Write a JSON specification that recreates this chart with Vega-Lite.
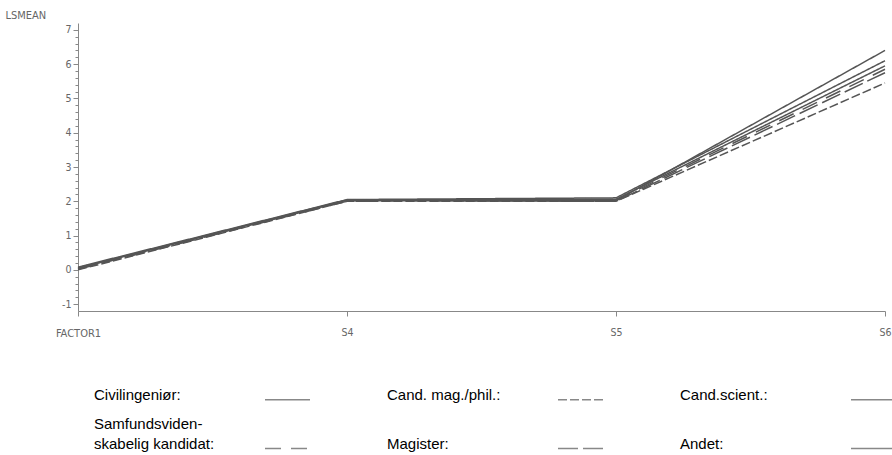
{
  "$schema": "https://vega.github.io/schema/vega-lite/v6.json",
  "autosize": "none",
  "width": 807,
  "height": 288,
  "padding": {"left": 78, "top": 23, "right": 7, "bottom": 144},
  "background": "white",
  "config": {
    "view": {"stroke": null},
    "axis": {
      "grid": false,
      "domainColor": "#888",
      "tickColor": "#888",
      "labelColor": "#666",
      "titleColor": "#666",
      "labelFont": "DejaVu Sans Condensed, Liberation Sans Narrow, DejaVu Sans",
      "titleFont": "DejaVu Sans Condensed, Liberation Sans Narrow, DejaVu Sans",
      "labelFontSize": 10.5,
      "titleFontSize": 11,
      "titleFontWeight": "normal"
    }
  },
  "data": {
    "values": [
      {"group": "Civilingeniør", "level": "S3", "lsmean": 0.05},
      {"group": "Civilingeniør", "level": "S4", "lsmean": 2.03},
      {"group": "Civilingeniør", "level": "S5", "lsmean": 2.02},
      {"group": "Civilingeniør", "level": "S6", "lsmean": 6.4},
      {"group": "Cand. mag./phil.", "level": "S3", "lsmean": 0.0},
      {"group": "Cand. mag./phil.", "level": "S4", "lsmean": 2.0},
      {"group": "Cand. mag./phil.", "level": "S5", "lsmean": 2.0},
      {"group": "Cand. mag./phil.", "level": "S6", "lsmean": 5.45},
      {"group": "Cand.scient.", "level": "S3", "lsmean": 0.08},
      {"group": "Cand.scient.", "level": "S4", "lsmean": 2.05},
      {"group": "Cand.scient.", "level": "S5", "lsmean": 2.1},
      {"group": "Cand.scient.", "level": "S6", "lsmean": 6.1},
      {"group": "Samfundsvidenskabelig kandidat", "level": "S3", "lsmean": 0.02},
      {"group": "Samfundsvidenskabelig kandidat", "level": "S4", "lsmean": 2.0},
      {"group": "Samfundsvidenskabelig kandidat", "level": "S5", "lsmean": 2.03},
      {"group": "Samfundsvidenskabelig kandidat", "level": "S6", "lsmean": 5.85},
      {"group": "Magister", "level": "S3", "lsmean": 0.03},
      {"group": "Magister", "level": "S4", "lsmean": 2.02},
      {"group": "Magister", "level": "S5", "lsmean": 2.0},
      {"group": "Magister", "level": "S6", "lsmean": 5.75},
      {"group": "Andet", "level": "S3", "lsmean": 0.06},
      {"group": "Andet", "level": "S4", "lsmean": 2.04},
      {"group": "Andet", "level": "S5", "lsmean": 2.06},
      {"group": "Andet", "level": "S6", "lsmean": 5.95}
    ]
  },
  "mark": {"type": "line", "color": "#555555", "strokeWidth": 1.5},
  "encoding": {
    "x": {
      "field": "level",
      "type": "ordinal",
      "sort": ["S3", "S4", "S5", "S6"],
      "scale": {"type": "point", "padding": 0},
      "axis": {
        "labelAngle": 0,
        "tickSize": 5,
        "labelPadding": 11,
        "labelExpr": "datum.value == 'S3' ? '' : datum.value",
        "title": "FACTOR1",
        "titleX": 0,
        "titleY": 22,
        "titleAlign": "center",
        "titleBaseline": "middle",
        "titleAnchor": "start"
      }
    },
    "y": {
      "field": "lsmean",
      "type": "quantitative",
      "scale": {"domain": [-1.2, 7.2], "nice": false, "zero": false},
      "axis": {
        "values": [-1, -0.8, -0.6, -0.4, -0.2, 0, 0.2, 0.4, 0.6, 0.8, 1, 1.2, 1.4, 1.6, 1.8, 2, 2.2, 2.4, 2.6, 2.8, 3, 3.2, 3.4, 3.6, 3.8, 4, 4.2, 4.4, 4.6, 4.8, 5, 5.2, 5.4, 5.6, 5.8, 6, 6.2, 6.4, 6.6, 6.8, 7],
        "labelExpr": "abs(datum.value - round(datum.value)) < 0.001 ? '' + round(datum.value) : ''",
        "labelOverlap": false,
        "tickSize": {"condition": {"test": "abs(datum.value - round(datum.value)) < 0.001", "value": 5}, "value": 3},
        "labelPadding": 2,
        "title": "LSMEAN",
        "titleAngle": 0,
        "titleX": -73,
        "titleY": -8,
        "titleAlign": "left",
        "titleBaseline": "middle"
      }
    },
    "strokeDash": {
      "field": "group",
      "type": "nominal",
      "scale": {
        "domain": ["Civilingeniør", "Samfundsvidenskabelig kandidat", "Cand. mag./phil.", "Magister", "Cand.scient.", "Andet"],
        "range": [[1, 0], [16, 10], [9, 3], [20, 5], [1, 0], [1, 0]]
      },
      "legend": {
        "orient": "none",
        "legendX": 186,
        "legendY": 353,
        "padding": 0,
        "title": null,
        "columns": 3,
        "columnPadding": 74,
        "rowPadding": 13,
        "symbolType": "stroke",
        "symbolSize": 2025,
        "symbolStrokeWidth": 1.5,
        "symbolStrokeColor": "#888",
        "labelFont": "Liberation Sans",
        "labelFontSize": 15,
        "labelColor": "black",
        "labelLimit": 300,
        "labelAlign": "left",
        "labelBaseline": "alphabetic",
        "labelOffset": -217,
        "labelExpr": "datum.label == 'Samfundsvidenskabelig kandidat' ? ['Samfundsviden-', 'skabelig kandidat:'] : datum.label + ':'",
        "encode": {
          "labels": {
            "update": {
              "dy": {"signal": "datum.value == 'Samfundsvidenskabelig kandidat' ? -20 : 0"},
              "lineHeight": {"value": 20}
            }
          }
        }
      }
    }
  }
}
